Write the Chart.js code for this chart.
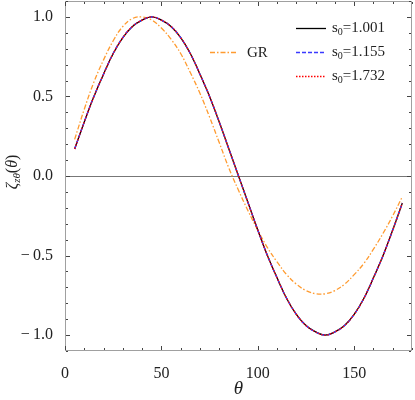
<!DOCTYPE html>
<html>
<head>
<meta charset="utf-8">
<script src="https://cdn.jsdelivr.net/npm/chart.js@4"></script>
<style>
  html, body { margin: 0; padding: 0; background: #fff; }
</style>
</head>
<body>
<canvas id="myChart" width="415" height="400"></canvas>
<script>
// values
var theta = [5, 10, 15, 20, 25, 30, 35, 40, 45, 50, 55, 60, 65, 70, 75, 80, 85, 90,
  95, 100, 105, 110, 115, 120, 125, 130, 135, 140, 145, 150, 155, 160, 165, 170, 175];

var zetaGR = [0.23, 0.42, 0.59, 0.73, 0.85, 0.94, 0.99, 1.0, 0.98, 0.93, 0.86, 0.77, 0.65,
  0.52, 0.37, 0.21, 0.05, -0.09, -0.22, -0.34, -0.45, -0.54, -0.62, -0.68, -0.72, -0.74,
  -0.74, -0.72, -0.68, -0.62, -0.55, -0.46, -0.36, -0.25, -0.13];

var zetaS1001 = [0.17, 0.34, 0.5, 0.64, 0.77, 0.87, 0.94, 0.98, 1.0, 0.98, 0.94, 0.87, 0.77,
  0.64, 0.5, 0.34, 0.17, 0.0, -0.17, -0.34, -0.5, -0.64, -0.77, -0.87, -0.94, -0.98,
  -1.0, -0.98, -0.94, -0.87, -0.77, -0.64, -0.5, -0.34, -0.17];
var zetaS1155 = [0.17, 0.34, 0.5, 0.64, 0.77, 0.87, 0.94, 0.98, 1.0, 0.98, 0.94, 0.87, 0.77,
  0.64, 0.5, 0.34, 0.17, 0.0, -0.17, -0.34, -0.5, -0.64, -0.77, -0.87, -0.94, -0.98,
  -1.0, -0.98, -0.94, -0.87, -0.77, -0.64, -0.5, -0.34, -0.17];
var zetaS1732 = [0.17, 0.34, 0.5, 0.64, 0.77, 0.87, 0.94, 0.98, 1.0, 0.98, 0.94, 0.87, 0.77,
  0.64, 0.5, 0.34, 0.17, 0.0, -0.17, -0.34, -0.5, -0.64, -0.77, -0.87, -0.94, -0.98,
  -1.0, -0.98, -0.94, -0.87, -0.77, -0.64, -0.5, -0.34, -0.17];

var xTicks = [0, 50, 100, 150];
var yTicks = [-1.0, -0.5, 0.0, 0.5, 1.0];
var sValues = ["1.001", "1.155", "1.732"];

var serif = "'Liberation Serif', 'Times New Roman', serif";
var orange = "#ff9b30";

function points(vals) {
  var out = [];
  for (var i = 0; i < theta.length; i++) out.push({ x: theta[i], y: vals[i] });
  return out;
}

function fmtY(v) {
  var s = Math.abs(v).toFixed(1);
  return v < 0 ? "\u2212\u2009" + s : s;
}

var frame = {
  id: "frame",
  beforeDatasetsDraw: function (chart) {
    var ctx = chart.ctx, a = chart.chartArea;
    var y0 = Math.round(chart.scales.y.getPixelForValue(0)) + 0.5;
    ctx.save();
    ctx.strokeStyle = "#777";
    ctx.lineWidth = 1;
    ctx.beginPath();
    ctx.moveTo(a.left, y0);
    ctx.lineTo(a.right, y0);
    ctx.stroke();
    ctx.restore();
  },
  afterDraw: function (chart) {
    var ctx = chart.ctx, a = chart.chartArea;
    var xs = chart.scales.x, ys = chart.scales.y;
    ctx.save();
    // box
    ctx.strokeStyle = "#a0a0a0";
    ctx.lineWidth = 1;
    ctx.strokeRect(Math.round(a.left) + 0.5, Math.round(a.top) + 0.5,
      Math.round(a.right - a.left) - 1, Math.round(a.bottom - a.top) - 1);

    // inward ticks
    ctx.strokeStyle = "#444";
    ctx.beginPath();
    for (var v = 0; v <= 180; v += 10) {
      var px = Math.round(xs.getPixelForValue(v)) + 0.5;
      var len = v % 50 === 0 ? 4 : 2;
      ctx.moveTo(px, a.bottom - 1); ctx.lineTo(px, a.bottom - 1 - len);
      ctx.moveTo(px, a.top + 1); ctx.lineTo(px, a.top + 1 + len);
    }
    for (var k = -11; k <= 11; k++) {
      var py = Math.round(ys.getPixelForValue(k / 10)) + 0.5;
      var l2 = k % 5 === 0 ? 4 : 2;
      ctx.moveTo(a.left + 1, py); ctx.lineTo(a.left + 1 + l2, py);
      ctx.moveTo(a.right - 1, py); ctx.lineTo(a.right - 1 - l2, py);
    }
    ctx.stroke();

    // y axis title
    ctx.fillStyle = "#222";
    ctx.textBaseline = "alphabetic";
    ctx.translate(17, 172);
    ctx.rotate(-Math.PI / 2);
    var parts = [
      { t: "\u03b6", f: "italic 16px " + serif, dy: 0 },
      { t: "z\u03b8", f: "italic 11px " + serif, dy: 3 },
      { t: "(", f: "16px " + serif, dy: 0 },
      { t: "\u03b8", f: "italic 16px " + serif, dy: 0 },
      { t: ")", f: "16px " + serif, dy: 0 }
    ];
    var total = 0;
    parts.forEach(function (p) { ctx.font = p.f; p.w = ctx.measureText(p.t).width; total += p.w; });
    var cx = -total / 2;
    parts.forEach(function (p) { ctx.font = p.f; ctx.fillText(p.t, cx, p.dy); cx += p.w; });
    ctx.restore();

    // legend
    ctx.save();
    ctx.lineWidth = 1.3;
    ctx.textBaseline = "middle";
    ctx.fillStyle = "#222";
    var ds = chart.data.datasets;
    // GR entry
    ctx.strokeStyle = ds[0].borderColor;
    ctx.setLineDash(ds[0].borderDash);
    ctx.beginPath(); ctx.moveTo(210, 52.5); ctx.lineTo(236, 52.5); ctx.stroke();
    ctx.setLineDash([]);
    ctx.font = "15px " + serif;
    ctx.fillText("GR", 247, 53);
    for (var i = 0; i < 3; i++) {
      var d = ds[i + 1];
      var yy = 28.5 + i * 24;
      ctx.strokeStyle = d.borderColor;
      ctx.setLineDash(d.borderDash || []);
      ctx.beginPath(); ctx.moveTo(296, yy); ctx.lineTo(326, yy); ctx.stroke();
      ctx.setLineDash([]);
      var tx = 332;
      ctx.font = "15px " + serif;
      ctx.fillText("s", tx, yy); tx += ctx.measureText("s").width;
      ctx.font = "10px " + serif;
      ctx.fillText("0", tx, yy + 4); tx += ctx.measureText("0").width;
      ctx.font = "15px " + serif;
      ctx.fillText("=" + sValues[i], tx, yy);
    }
    ctx.restore();
  }
};

var ctx = document.getElementById("myChart").getContext("2d");
var myChart = new Chart(ctx, {
  type: "line",
  data: {
    datasets: [
      { label: "GR", data: points(zetaGR), borderColor: orange, borderWidth: 1.3,
        borderDash: [5, 2, 1.5, 2], order: 4 },
      { label: "s0=1.001", data: points(zetaS1001), borderColor: "#000000", borderWidth: 1.3,
        borderDash: [], order: 3 },
      { label: "s0=1.155", data: points(zetaS1155), borderColor: "#3a3aff", borderWidth: 1.3,
        borderDash: [4, 2], order: 2 },
      { label: "s0=1.732", data: points(zetaS1732), borderColor: "#ff0000", borderWidth: 1.3,
        borderDash: [1.5, 1.5], order: 1 }
    ]
  },
  options: {
    responsive: false,
    animation: false,
    layout: { padding: { top: 1, right: 3, left: 0, bottom: 0 } },
    elements: {
      point: { radius: 0 },
      line: { tension: 0.4, fill: false }
    },
    plugins: {
      legend: { display: false },
      tooltip: { enabled: false }
    },
    scales: {
      x: {
        type: "linear",
        min: 0,
        max: 180,
        afterFit: function (s) { s.height = 49; s.paddingLeft = 0; s.paddingRight = 0; },
        afterBuildTicks: function (s) { s.ticks = xTicks.map(function (v) { return { value: v }; }); },
        grid: { display: false },
        border: { display: false },
        ticks: { color: "#222", padding: 5, maxRotation: 0, font: { family: serif, size: 16 } },
        title: { display: true, text: "\u03b8", color: "#222", padding: { top: 0, bottom: 0 },
          font: { family: serif, size: 19, style: "italic" } }
      },
      y: {
        min: -1.1,
        max: 1.1,
        afterFit: function (s) { s.width = 65; s.paddingTop = 0; s.paddingBottom = 0; },
        afterBuildTicks: function (s) { s.ticks = yTicks.map(function (v) { return { value: v }; }); },
        grid: { display: false },
        border: { display: false },
        ticks: { color: "#222", padding: 4, font: { family: serif, size: 16 },
          callback: function (v) { return fmtY(v); } }
      }
    }
  },
  plugins: [frame]
});
</script>
</body>
</html>
